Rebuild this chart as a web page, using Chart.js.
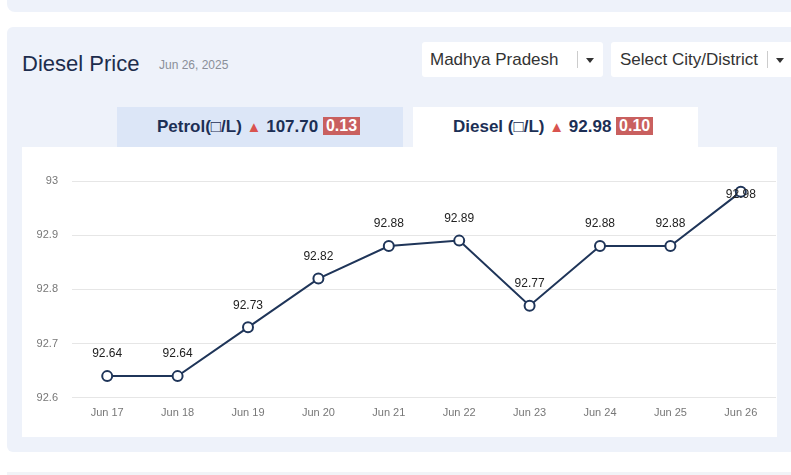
<!DOCTYPE html>
<html>
<head>
<meta charset="utf-8">
<script src="https://cdn.jsdelivr.net/npm/chart.js@4.4.1/dist/chart.umd.min.js"></script>
<style>
  body { margin: 0; width: 791px; height: 475px; background: #fff; overflow: hidden; position: relative;
         font-family: "Liberation Sans", Arial, sans-serif; }
  .abs { position: absolute; }
  .toppanel { left: 7px; top: 0; width: 784px; height: 12px; background: #eef2fa; border-radius: 0 0 0 8px; }
  .panel { left: 7px; top: 27px; width: 790px; height: 425px; background: #eef2fa; border-radius: 6px; }
  .botpanel { left: 7px; top: 472px; width: 790px; height: 10px; background: #f1f3f7; }
  .title { left: 22px; top: 51px; font-size: 22px; color: #1d2d4d; }
  .date { left: 159px; top: 58px; font-size: 12px; color: #8a8f99; }
  .dd { top: 42px; height: 35px; background: #fff; border-radius: 3px; font-size: 17px; color: #333;
        line-height: 35px; }
  .dd .sep { position: absolute; top: 9px; width: 1px; height: 17px; background: #ccc; }
  .dd .caret { position: absolute; top: 16px; width: 0; height: 0; border-left: 4px solid transparent;
               border-right: 4px solid transparent; border-top: 5px solid #333; }
  .tab { top: 107px; height: 40px; line-height: 40px; font-size: 17px; font-weight: bold; color: #1c2f55; }
  .tab .tri { color: #d9534f; font-size: 15px; }
  .badge { display: inline-block; background: #c9605f; color: #fff; padding: 0 3px; line-height: 18px;
           font-size: 16px; vertical-align: 1px; }
  .card { left: 22px; top: 147px; width: 755px; height: 290px; background: #fff; }
  #wrap { left: 22px; top: 150px; width: 761px; height: 287px; }
</style>
</head>
<body>
<div class="abs toppanel"></div>
<div class="abs panel"></div>
<div class="abs botpanel"></div>
<div class="abs title">Diesel Price</div>
<div class="abs date">Jun 26, 2025</div>
<div class="abs dd" style="left:422px;width:181px;">
  <span style="margin-left:8px;">Madhya Pradesh</span>
  <div class="sep" style="left:155px;"></div>
  <div class="caret" style="left:164px;"></div>
</div>
<div class="abs dd" style="left:611px;width:190px;">
  <span style="margin-left:9px;">Select City/District</span>
  <div class="sep" style="left:156px;"></div>
  <div class="caret" style="left:165px;"></div>
</div>
<div class="abs tab" style="left:117px;width:286px;background:#dce6f7;">
  <span style="margin-left:40px;">Petrol(□/L) <span class="tri">▲</span> 107.70 <span class="badge">0.13</span></span>
</div>
<div class="abs tab" style="left:413px;width:285px;height:43px;background:#fff;">
  <span style="margin-left:40px;">Diesel (□/L) <span class="tri">▲</span> 92.98 <span class="badge">0.10</span></span>
</div>
<div class="abs card"></div>
<div class="abs" id="wrap"><canvas id="dieselChart"></canvas></div>

<script>
const days = ["Jun 17", "Jun 18", "Jun 19", "Jun 20", "Jun 21", "Jun 22", "Jun 23", "Jun 24", "Jun 25", "Jun 26"];
const dieselPrices = [92.64, 92.64, 92.73, 92.82, 92.88, 92.89, 92.77, 92.88, 92.88, 92.98];
const yTicks = [92.6, 92.7, 92.8, 92.9, 93];

// draws the price above each point, kept inside the plot area
const valueLabels = {
  id: "valueLabels",
  afterDatasetsDraw(chart) {
    const ctx = chart.ctx;
    const meta = chart.getDatasetMeta(0);
    ctx.save();
    ctx.font = "12px 'Liberation Sans', Arial, sans-serif";
    ctx.fillStyle = "#222";
    ctx.textAlign = "center";
    ctx.textBaseline = "middle";
    meta.data.forEach((pt, i) => {
      const y = Math.max(pt.y - 22, chart.chartArea.top + 14);
      ctx.fillText(dieselPrices[i].toFixed(2), pt.x, y);
    });
    ctx.restore();
  },
};

const ctx = document.getElementById("dieselChart").getContext("2d");
new Chart(ctx, {
  type: "line",
  data: {
    labels: days,
    datasets: [
      {
        label: "Diesel",
        data: dieselPrices,
        borderColor: "#1f3559",
        borderWidth: 2,
        backgroundColor: "#fff",
        pointBackgroundColor: "#fff",
        pointBorderColor: "#1f3559",
        pointBorderWidth: 2,
        pointRadius: 5,
        tension: 0,
      },
    ],
  },
  options: {
    responsive: true,
    maintainAspectRatio: false,
    animation: false,
    layout: { padding: { top: 31, right: 1, bottom: 8, left: 0 } },
    plugins: { legend: { display: false }, tooltip: { enabled: false } },
    scales: {
      x: {
        offset: true,
        grid: { display: false, drawTicks: false },
        border: { display: false },
        ticks: { color: "#777", padding: 9, font: { size: 11, family: "'Liberation Sans', Arial, sans-serif" } },
      },
      y: {
        min: yTicks[0],
        max: yTicks[yTicks.length - 1],
        afterFit(scale) { scale.width = 50; },
        afterBuildTicks(scale) { scale.ticks = yTicks.map((v) => ({ value: v })); },
        grid: { color: "#e6e6e6", drawTicks: false },
        border: { display: false },
        ticks: {
          color: "#777",
          padding: 14,
          font: { size: 11, family: "'Liberation Sans', Arial, sans-serif" },
          callback: (v) => String(Math.round(v * 10) / 10),
        },
      },
    },
  },
  plugins: [valueLabels],
});
</script>
</body>
</html>
